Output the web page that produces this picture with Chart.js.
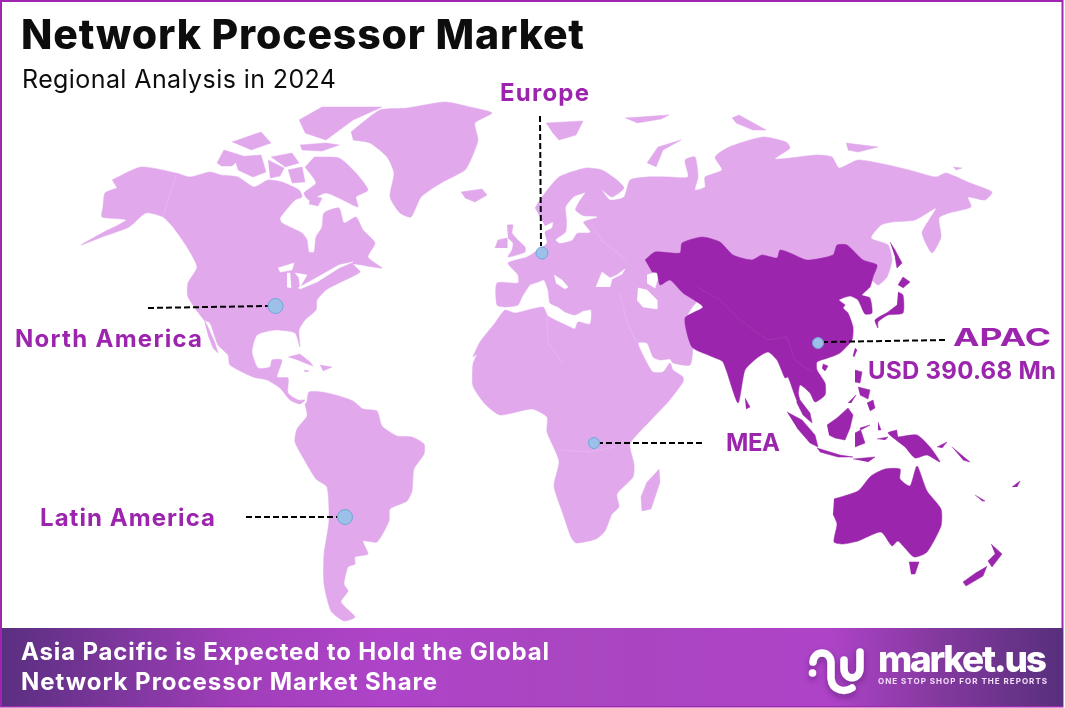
<!DOCTYPE html>
<html>
<head>
<meta charset="utf-8">
<title>Network Processor Market</title>
<script src="https://cdn.jsdelivr.net/npm/chart.js@4/dist/chart.umd.min.js"></script>
<style>
html,body{margin:0;padding:0;background:#fff;}
#wrap{position:relative;width:1065px;height:708px;overflow:hidden;}
canvas{position:absolute;left:0;top:0;}
svg{position:absolute;left:0;top:0;pointer-events:none;}
text{font-family:Inter,"Open Sans",sans-serif;}
</style>
</head>
<body>
<div id="wrap">
<canvas id="c" width="1065" height="708"></canvas>
<svg width="1065" height="708" viewBox="0 0 1065 708">
  <defs>
    <linearGradient id="band" x1="0" x2="1" y1="0" y2="0">
      <stop offset="0" stop-color="#5a2f80"/>
      <stop offset="0.22" stop-color="#a03eb9"/>
      <stop offset="0.36" stop-color="#ae44c8"/>
      <stop offset="0.55" stop-color="#a946c0"/>
      <stop offset="0.78" stop-color="#ae43c8"/>
      <stop offset="0.88" stop-color="#84399f"/>
      <stop offset="1" stop-color="#572f7c"/>
    </linearGradient>
    <filter id="soft" x="-20%" y="-20%" width="140%" height="150%"><feDropShadow dx="0" dy="3" stdDeviation="3" flood-color="#3a1a55" flood-opacity="0.45"/></filter>
  </defs>
  <rect x="1" y="1" width="1061.5" height="705.5" fill="none" stroke="#9f27b0" stroke-width="2"/>
  <rect x="2" y="628" width="1061" height="78" fill="url(#band)"/>
  <g id="labels"></g>
  <g filter="url(#soft)" fill="none" stroke="#fff" stroke-width="7.500" stroke-linecap="round" stroke-linejoin="round">
    <path d="M813 662 C814 650 830 650 831 662 L831 678 C832 692 846 692 852 688"/>
    <path d="M844 660 L844 668 C844 681 860 681 860 668 L860 652"/>
    <circle cx="812.500" cy="673" r="3" fill="#fff" stroke-width="1.500"/>
  </g>
</svg>
</div>
<script>
// ---- map outlines, in map units ----
const northAmerica=[[112,180],[141,167],[176,173],[190,177],[210,172],[221,175],[238,177],[254,187],[268,180],[282,182],[299,190],[302,197],[295,200],[280,218],[282,223],[302,233],[307,240],[309,252],[314,252],[316,237],[322,227],[324,213],[339,208],[344,223],[356,217],[363,230],[375,243],[368,257],[382,268],[373,267],[353,264],[360,272],[339,283],[326,290],[317,300],[316,310],[305,320],[299,330],[300,347],[295,333],[275,330],[257,335],[252,352],[258,368],[270,367],[272,360],[282,360],[277,377],[288,378],[288,393],[298,400],[305,400],[300,404],[290,400],[280,388],[267,380],[253,377],[230,365],[228,355],[218,345],[210,323],[204,320],[188,297],[188,283],[197,267],[187,247],[173,227],[163,217],[146,213],[129,227],[102,237],[81,245],[102,233],[126,220],[102,217],[103,207],[105,193],[117,188]];
const bajaCalifornia=[[204,320],[207,325],[215,343],[218,353],[213,348],[208,335]];
const greenland=[[351,132],[380,110],[407,108],[445,102],[470,107],[492,113],[475,123],[478,140],[472,157],[465,170],[441,183],[421,197],[411,217],[400,213],[390,197],[394,173],[387,157],[370,143],[353,140]];
const iceland=[[461,192],[482,189],[487,195],[475,202],[465,198]];
const baffin=[[314,157],[339,158],[356,173],[368,190],[356,197],[358,207],[343,200],[326,193],[309,200],[304,193],[316,183],[305,167]];
const victoriaIsland=[[234,157],[261,155],[266,172],[253,177],[238,170]];
const banksIsland=[[217,163],[224,150],[243,156],[232,166],[221,166]];
const ellesmere=[[299,120],[322,107],[382,107],[353,120],[326,140],[305,133]];
const devonIsland=[[300,145],[326,143],[339,145],[322,151],[302,150]];
const melvilleIsland=[[232,142],[261,132],[271,143],[251,150]];
const princeWales=[[271,157],[292,153],[299,163],[285,167]];
const somerset=[[288,170],[302,167],[305,182],[292,183]];
const kingWilliam=[[268,160],[284,168],[280,176],[270,178]];
const southampton=[[310,196],[322,198],[318,206],[309,204]];
const cuba=[[288,357],[300,354],[310,362],[313,366],[300,361]];
const hispaniola=[[320,365],[332,367],[323,371]];
const jamaica=[[304,370],[309,371],[305,372]];
const southAmerica=[[307,401],[309,392],[322,392],[339,396],[353,401],[363,409],[377,411],[382,426],[397,436],[412,437],[424,444],[424,454],[414,469],[412,491],[407,501],[390,509],[389,521],[377,542],[363,541],[368,554],[355,557],[355,564],[348,567],[344,584],[348,591],[341,602],[355,617],[344,621],[331,611],[324,584],[324,554],[329,521],[327,487],[316,479],[305,461],[295,442],[297,429],[307,416],[305,404]];
const afroEurasia=[[535,208],[542,197],[559,177],[586,168],[602,170],[617,180],[624,188],[612,197],[602,190],[610,200],[624,197],[630,180],[647,177],[669,177],[688,177],[685,160],[695,157],[698,177],[695,190],[705,187],[705,177],[722,170],[715,157],[729,147],[763,137],[786,142],[790,148],[775,159],[817,155],[832,157],[839,168],[858,160],[888,165],[909,170],[936,177],[946,173],[970,183],[992,192],[985,200],[968,197],[971,207],[949,213],[939,218],[941,237],[932,253],[922,233],[929,220],[936,208],[915,220],[892,222],[881,225],[871,238],[888,245],[892,260],[887,277],[878,285],[871,280],[800,300],[700,300],[687,317],[692,343],[693,347],[690,365],[673,363],[670,359],[660,360],[653,357],[647,343],[638,343],[647,363],[653,372],[663,372],[670,363],[673,370],[683,377],[683,382],[668,402],[649,422],[630,444],[634,464],[633,477],[617,494],[619,507],[612,514],[605,531],[596,539],[576,543],[571,537],[563,514],[554,486],[559,461],[547,432],[547,417],[532,409],[500,415],[485,404],[473,386],[473,364],[477,354],[473,357],[480,342],[495,323],[505,310],[515,313],[543,307],[548,316],[570,327],[575,329],[578,322],[590,324],[591,310],[583,311],[575,315],[565,312],[558,307],[550,303],[548,290],[544,280],[538,282],[530,285],[522,297],[518,305],[505,307],[497,305],[497,283],[518,283],[518,275],[508,263],[527,257],[538,250],[547,243],[545,232],[552,228],[553,222],[545,226]];
const britain=[[507,225],[513,225],[512,233],[520,242],[525,247],[525,252],[508,257],[512,250],[513,243],[508,238]];
const ireland=[[495,248],[498,240],[507,238],[507,248]];
const madagascar=[[659,469],[660,482],[651,509],[642,511],[641,497],[647,482]];
const novayaZemlya=[[647,163],[658,147],[681,140],[663,150],[656,167]];
const svalbard=[[546,123],[583,121],[576,135],[559,140],[552,132]];
const franzJosef=[[625,118],[669,115],[661,119],[637,123]];
const severnaya=[[732,118],[739,115],[766,130],[753,130],[736,123]];
const newSiberia=[[846,143],[878,147],[858,152],[848,150]];
const wrangel=[[953,167],[962,168],[956,170]];
const lightLand=[northAmerica,bajaCalifornia,greenland,iceland,baffin,victoriaIsland,banksIsland,ellesmere,devonIsland,melvilleIsland,princeWales,somerset,kingWilliam,southampton,cuba,hispaniola,jamaica,southAmerica,afroEurasia,britain,ireland,madagascar,novayaZemlya,svalbard,franzJosef,severnaya,newSiberia,wrangel];

const blackSea=[[596,287],[602,272],[610,278],[617,275],[625,269],[622,274],[612,279],[610,287]];
const caspian=[[638,288],[647,290],[657,300],[657,309],[643,307],[637,300]];
const aralSea=[[647,275],[662,270],[658,278],[655,288],[647,283]];
const adriatic=[[554,275],[562,280],[568,287],[565,289],[556,283]];
const baltic=[[585,193],[574,197],[566,207],[567,220],[566,232],[556,240],[560,243],[572,240],[577,233],[590,232],[583,222],[597,217],[583,216],[575,210],[578,203]];
const lakeSuperior=[[278,268],[294,263],[292,270],[280,272]];
const lakeMichigan=[[287,273],[290,273],[291,288],[287,287]];
const lakeHuron=[[295,273],[307,275],[300,287],[299,278]];
const lakeOntario=[[298,288],[316,278],[339,265],[353,262],[339,268],[317,282],[300,289]];
const water=[blackSea,caspian,aralSea,adriatic,baltic,lakeSuperior,lakeMichigan,lakeHuron,lakeOntario];

const asiaMain=[[645,260],[655,252],[680,253],[682,243],[702,237],[720,242],[733,255],[752,260],[762,255],[777,258],[780,250],[790,253],[807,260],[833,255],[837,245],[847,245],[863,260],[877,265],[873,277],[870,287],[862,295],[870,298],[872,313],[865,314],[858,300],[850,296],[839,300],[845,305],[843,308],[848,313],[853,327],[852,340],[840,353],[828,358],[817,362],[817,370],[825,383],[825,395],[815,402],[810,393],[800,385],[797,400],[788,377],[785,378],[777,360],[768,352],[757,358],[745,370],[738,403],[723,362],[713,357],[692,347],[685,318],[703,307],[683,293],[670,280],[660,285],[657,273],[652,272]];
const malayPeninsula=[[795,383],[800,400],[810,413],[812,423],[803,415],[797,403],[796,390]];
const sriLanka=[[745,398],[750,407],[746,409]];
const sumatra=[[787,412],[802,420],[815,435],[818,447],[810,443],[797,428]];
const java=[[817,448],[840,455],[853,457],[838,457],[820,452]];
const sunda=[[853,459],[875,457],[868,462]];
const borneo=[[827,425],[837,418],[848,408],[853,415],[850,428],[845,440],[835,438],[829,435]];
const sulawesi=[[855,433],[870,425],[860,428],[865,443],[855,447]];
const newGuinea=[[898,437],[917,435],[930,447],[940,462],[927,455],[915,458],[905,447],[888,433],[897,430]];
const luzon=[[855,370],[862,372],[860,383],[855,382]];
const visayas=[[858,387],[870,390],[868,399],[860,395]];
const mindanao=[[867,403],[873,400],[875,408],[870,411]];
const palawan=[[848,403],[856,395],[851,403]];
const taiwan=[[855,348],[857,350],[854,357],[853,355]];
const hainan=[[823,364],[828,366],[825,371],[822,368]];
const newBritain=[[937,447],[947,442],[942,448]];
const solomons=[[952,447],[970,462],[963,460]];
const seram=[[877,439],[888,437],[885,440]];
const halmahera=[[878,422],[881,430],[878,430]];
const australia=[[834,499],[858,491],[871,476],[885,469],[900,469],[900,479],[910,486],[917,466],[927,491],[941,509],[941,526],[927,552],[914,557],[898,541],[892,546],[881,532],[858,541],[843,544],[834,542],[837,524],[833,514]];
const tasmania=[[909,562],[919,562],[915,574],[911,574]];
const newZealandNorth=[[991,544],[1002,554],[992,567],[988,561],[995,554]];
const newZealandSouth=[[987,566],[983,576],[966,586],[963,582],[977,572]];
const newCaledonia=[[975,495],[985,501],[982,501]];
const fiji=[[1012,487],[1020,481],[1017,487]];
const hokkaido=[[898,285],[903,277],[910,282],[903,288]];
const honshu=[[898,292],[903,295],[903,313],[888,315],[878,322],[878,328],[875,320],[888,312],[897,305]];
const sakhalin=[[890,242],[895,250],[902,263],[897,268],[895,257]];
const apacLand=[asiaMain,malayPeninsula,sriLanka,sumatra,java,sunda,borneo,sulawesi,newGuinea,luzon,visayas,mindanao,palawan,taiwan,hainan,newBritain,solomons,seram,halmahera,australia,tasmania,newZealandNorth,newZealandSouth,newCaledonia,fiji,hokkaido,honshu,sakhalin];

// ---- faint borders ----
const alaskaBorder=[[176,175],[163,217]];
const russiaBorder=[[592,225],[603,242],[627,260]];
const turkeyIranBorder=[[620,293],[627,323],[637,343]];
const saharaBorder=[[547,317],[548,343],[563,363]];
const congoBorder=[[560,450],[590,452],[615,447]];
const lightBorders=[alaskaBorder,russiaBorder,turkeyIranBorder,saharaBorder,congoBorder];
const himalayaBorder=[[697,287],[720,300],[740,320],[767,340],[787,337]];
const mekongBorder=[[787,337],[795,360],[812,372]];
const darkBorders=[himalayaBorder,mekongBorder];

// ---- region callouts ----
const regionNames=["North America","Latin America","Europe","MEA","APAC"];
const regionMarkers=[[275.5,306],[345,517],[542,253],[594,443],[818,343]];
const markerRadius=[7.5,7.5,6,5.5,5.5];
const calloutEnds=[[148,308],[246,517],[540,116],[702,443],[945,340]];
const calloutStarts=[[268,306],[338,517],[541,246],[600,443],[824,342]];

// ---- texts: content, left, baseline, fitted width, size, weight, colour, fit ----
const textRows=[
 ["Network Processor Market",21,49,563,41,800,"#0d0d0d","spacing"],
 ["Regional Analysis in 2024",22,88,314,25,400,"#0d0d0d","spacing"],
 ["Europe",500,101,89,24,700,"#9c25ad","spacing"],
 ["North America",15,347,187,24,700,"#9c25ad","spacing"],
 ["APAC",953,346,98,24,700,"#9c25ad","spacingAndGlyphs"],
 ["USD 390.68 Mn",868,379,188,24,700,"#9c25ad","spacing"],
 ["MEA",726,451,54,24,700,"#9c25ad","spacing"],
 ["Latin America",40,526,175,24,700,"#9c25ad","spacing"],
 ["Asia Pacific is Expected to Hold the Global",21,660,528,24,700,"#ffffff","spacing"],
 ["Network Processor Market Share",21,690,416,24,700,"#ffffff","spacing"],
 ["market.us",878,672,169,37,800,"#ffffff","spacing"],
 ["ONE STOP SHOP FOR THE REPORTS",878,684,169,8,700,"#f3dff8","spacing"]
];

const labelsGroup=document.getElementById('labels');
textRows.forEach(([t,x,y,w,s,wt,col,fit])=>{
  const el=document.createElementNS('http://www.w3.org/2000/svg','text');
  el.textContent=t;
  el.setAttribute('x',x);el.setAttribute('y',y);
  el.setAttribute('textLength',w);el.setAttribute('lengthAdjust',fit);
  el.setAttribute('font-size',s);el.setAttribute('font-weight',wt);el.setAttribute('fill',col);
  labelsGroup.appendChild(el);
});

const toPts=a=>a.map(p=>({x:p[0],y:p[1]}));
const polygon=(a,color,order)=>({type:'scatter',data:toPts(a),showLine:true,fill:'shape',
  tension:a.length>8?0.2:0,
  backgroundColor:color,borderColor:color,borderWidth:0.5,pointRadius:0,order});
const rule=(a,color,order)=>({type:'scatter',data:toPts(a),showLine:true,fill:false,tension:0,
  borderColor:color,borderWidth:0.5,pointRadius:0,order});
const datasets=[];
lightLand.forEach(a=>datasets.push(polygon(a,'#e1a9ec',7)));
lightBorders.forEach(a=>datasets.push(rule(a,'#e9c0f2',6)));
water.forEach(a=>datasets.push(polygon(a,'#ffffff',5)));
apacLand.forEach(a=>datasets.push(polygon(a,'#9c25ad',4)));
darkBorders.forEach(a=>datasets.push(rule(a,'#ab45bc',3)));
regionNames.forEach((n,i)=>datasets.push({type:'scatter',label:n+' callout',data:toPts([calloutEnds[i],calloutStarts[i]]),
  showLine:true,fill:false,borderColor:'#000',borderWidth:2,borderDash:[6,3],pointRadius:0,order:2}));
datasets.push({type:'scatter',label:'Regions',data:toPts(regionMarkers),showLine:false,
  pointRadius:markerRadius,pointBackgroundColor:'#9dc0e8',pointBorderColor:'#6ea6dc',pointBorderWidth:1,order:1});

new Chart(document.getElementById('c'),{
  type:'scatter',
  data:{datasets},
  options:{
    responsive:false,animation:false,
    layout:{padding:0,autoPadding:false},
    plugins:{legend:{display:false},tooltip:{enabled:false},title:{display:false}},
    scales:{
      x:{type:'linear',min:0,max:1065,display:false},
      y:{type:'linear',min:0,max:708,reverse:true,display:false}
    }
  }
});
</script>
</body>
</html>
